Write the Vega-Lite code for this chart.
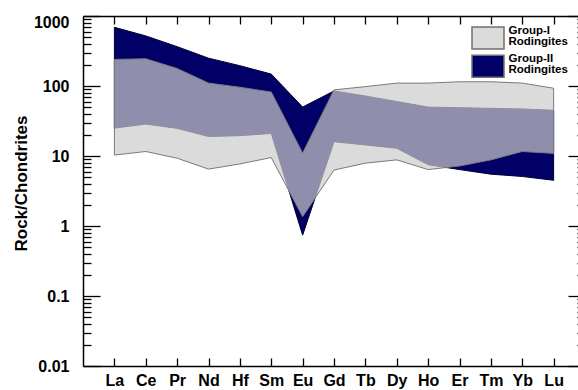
{
  "$schema": "https://vega.github.io/schema/vega-lite/v6.json",
  "autosize": {"type": "none"},
  "padding": {"left": 83, "top": 16, "right": 0, "bottom": 24},
  "width": 502,
  "height": 350,
  "background": "white",
  "config": {
    "view": {"stroke": null},
    "font": "Liberation Sans",
    "axis": {"domainColor": "black", "domainWidth": 1.5, "tickColor": "black", "tickWidth": 1.3, "labelColor": "black", "titleColor": "black", "grid": false}
  },
  "data": {
    "values": [
      {"element": "La", "group": "Group-I Rodingites", "lower": 10.3, "upper": 240},
      {"element": "Ce", "group": "Group-I Rodingites", "lower": 11.6, "upper": 245},
      {"element": "Pr", "group": "Group-I Rodingites", "lower": 9.3, "upper": 178},
      {"element": "Nd", "group": "Group-I Rodingites", "lower": 6.5, "upper": 110},
      {"element": "Hf", "group": "Group-I Rodingites", "lower": 7.7, "upper": 96},
      {"element": "Sm", "group": "Group-I Rodingites", "lower": 9.5, "upper": 82},
      {"element": "Eu", "group": "Group-I Rodingites", "lower": 1.36, "upper": 11},
      {"element": "Gd", "group": "Group-I Rodingites", "lower": 6.3, "upper": 88},
      {"element": "Tb", "group": "Group-I Rodingites", "lower": 7.9, "upper": 98},
      {"element": "Dy", "group": "Group-I Rodingites", "lower": 8.8, "upper": 110},
      {"element": "Ho", "group": "Group-I Rodingites", "lower": 6.4, "upper": 110},
      {"element": "Er", "group": "Group-I Rodingites", "lower": 7.2, "upper": 115},
      {"element": "Tm", "group": "Group-I Rodingites", "lower": 8.8, "upper": 115},
      {"element": "Yb", "group": "Group-I Rodingites", "lower": 11.6, "upper": 110},
      {"element": "Lu", "group": "Group-I Rodingites", "lower": 10.9, "upper": 93},
      {"element": "La", "group": "Group-II Rodingites", "lower": 25, "upper": 690},
      {"element": "Ce", "group": "Group-II Rodingites", "lower": 28.6, "upper": 520},
      {"element": "Pr", "group": "Group-II Rodingites", "lower": 24.8, "upper": 365},
      {"element": "Nd", "group": "Group-II Rodingites", "lower": 19, "upper": 250},
      {"element": "Hf", "group": "Group-II Rodingites", "lower": 19.5, "upper": 195},
      {"element": "Sm", "group": "Group-II Rodingites", "lower": 21, "upper": 148},
      {"element": "Eu", "group": "Group-II Rodingites", "lower": 0.74, "upper": 50},
      {"element": "Gd", "group": "Group-II Rodingites", "lower": 16, "upper": 85},
      {"element": "Tb", "group": "Group-II Rodingites", "lower": 14.4, "upper": 72},
      {"element": "Dy", "group": "Group-II Rodingites", "lower": 12.9, "upper": 60},
      {"element": "Ho", "group": "Group-II Rodingites", "lower": 7.5, "upper": 50},
      {"element": "Er", "group": "Group-II Rodingites", "lower": 6.4, "upper": 49},
      {"element": "Tm", "group": "Group-II Rodingites", "lower": 5.5, "upper": 48},
      {"element": "Yb", "group": "Group-II Rodingites", "lower": 5.1, "upper": 47},
      {"element": "Lu", "group": "Group-II Rodingites", "lower": 4.5, "upper": 45}
    ]
  },
  "resolve": {"axis": {"x": "independent", "y": "independent"}},
  "layer": [
    {
      "transform": [{"filter": "datum.group == 'Group-II Rodingites'"}],
      "mark": {"type": "area", "stroke": "#000030", "strokeWidth": 1},
      "encoding": {
        "x": {
          "field": "element", "type": "ordinal", "sort": null,
          "scale": {"type": "point", "padding": 1},
          "axis": {"orient": "bottom", "title": null, "labelAngle": 0, "tickSize": -8, "labelPadding": 14, "labelFontSize": 16, "labelFontWeight": "bold", "labelBaseline": "top"}
        },
        "y": {
          "field": "lower", "type": "quantitative",
          "scale": {"type": "log", "domain": [0.01, 1000], "nice": false},
          "axis": {
            "orient": "left", "title": "Rock/Chondrites", "titleFontSize": 17, "titleFontWeight": "bold",
            "titleX": -62, "titleY": 167, "titleBaseline": "middle", "titleAngle": -90, "titleAlign": "center",
            "values": [0.01, 0.1, 1, 10, 100, 1000],
            "format": "~g",
            "tickSize": -17,
            "labelOffset": {"condition": {"test": "datum.value == 1000", "value": 6}, "value": 0},
            "labelPadding": 31, "labelFontSize": 16, "labelFontWeight": "bold"
          }
        },
        "y2": {"field": "upper"},
        "color": {
          "field": "group", "type": "nominal",
          "scale": {"domain": ["Group-I Rodingites", "Group-II Rodingites"], "range": ["#cccccc", "#000066"]},
          "legend": {
            "orient": "none", "legendX": 393, "legendY": 10, "title": null, "padding": 0,
            "symbolType": "M-1.455,-1L1.455,-1L1.455,1L-1.455,1Z", "symbolSize": 484,
            "symbolStrokeColor": "#707070", "symbolStrokeWidth": 1.5,
            "labelExpr": "split(datum.label, ' ')", "labelFontSize": 11.5, "labelFontWeight": "bold", "labelColor": "black",
            "labelOffset": 8.5, "labelLimit": 0, "rowPadding": 0.3,
            "encode": {
              "symbols": {"update": {"fillOpacity": {"signal": "datum.value == 'Group-I Rodingites' ? 0.7 : 1"}}},
              "labels": {"update": {"lineHeight": {"value": 11}, "dy": {"value": -7}}}
            }
          }
        }
      }
    },
    {
      "transform": [{"filter": "datum.group == 'Group-I Rodingites'"}],
      "mark": {"type": "area", "fillOpacity": 0.7, "stroke": "#7a7a7a", "strokeWidth": 1},
      "encoding": {
        "x": {
          "field": "element", "type": "ordinal", "sort": null,
          "axis": {"orient": "top", "title": null, "labels": false, "tickSize": -8}
        },
        "y": {
          "field": "lower", "type": "quantitative",
          "axis": {"orient": "right", "title": null, "labels": false, "values": [0.01, 0.1, 1, 10, 100, 1000], "tickSize": -17}
        },
        "y2": {"field": "upper"},
        "color": {"field": "group", "type": "nominal"}
      }
    },
    {
      "transform": [{"filter": "datum.group == 'Group-II Rodingites'"}],
      "mark": {"type": "area", "fillOpacity": 0, "strokeOpacity": 0},
      "encoding": {
        "x": {"field": "element", "type": "ordinal", "sort": null, "axis": null},
        "y": {
          "field": "lower", "type": "quantitative",
          "axis": {"orient": "left", "title": null, "labels": false, "domain": false, "tickSize": -8,
            "values": [0.02,0.03,0.04,0.05,0.06,0.07,0.08,0.09,0.2,0.3,0.4,0.5,0.6,0.7,0.8,0.9,2,3,4,5,6,7,8,9,20,30,40,50,60,70,80,90,200,300,400,500,600,700,800,900]}
        },
        "y2": {"field": "upper"}
      }
    },
    {
      "transform": [{"filter": "datum.group == 'Group-I Rodingites'"}],
      "mark": {"type": "area", "fillOpacity": 0, "strokeOpacity": 0},
      "encoding": {
        "x": {"field": "element", "type": "ordinal", "sort": null, "axis": null},
        "y": {
          "field": "lower", "type": "quantitative",
          "axis": {"orient": "right", "title": null, "labels": false, "domain": false, "tickSize": -8,
            "values": [0.02,0.03,0.04,0.05,0.06,0.07,0.08,0.09,0.2,0.3,0.4,0.5,0.6,0.7,0.8,0.9,2,3,4,5,6,7,8,9,20,30,40,50,60,70,80,90,200,300,400,500,600,700,800,900]}
        },
        "y2": {"field": "upper"}
      }
    }
  ]
}
